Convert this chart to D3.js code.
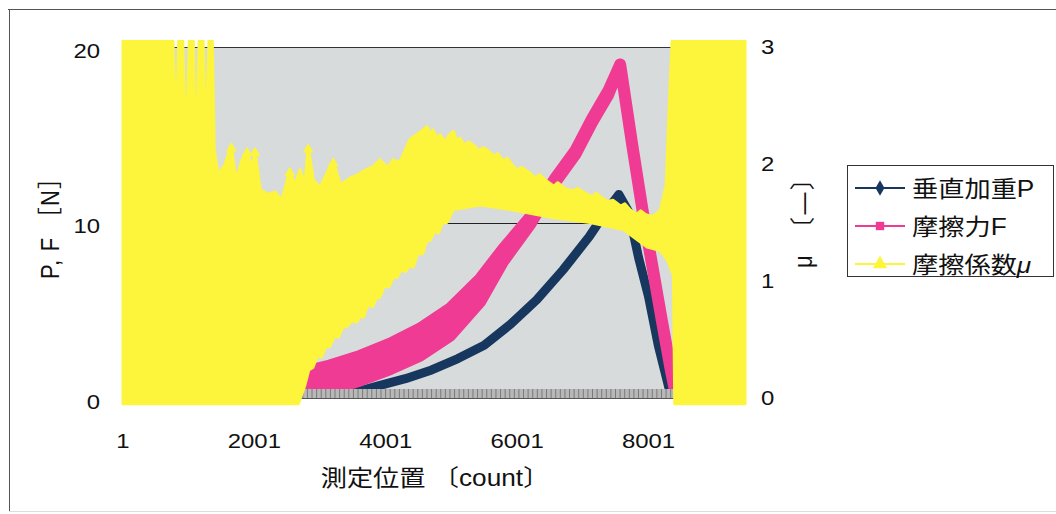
<!DOCTYPE html>
<html>
<head>
<meta charset="utf-8">
<script src="https://cdn.jsdelivr.net/npm/d3@7"></script>
<style>
  body { margin: 0; background: #fff; }
  text { font-family: "Liberation Sans", Arial, "Noto Sans CJK JP", sans-serif; fill: #111; }
</style>
</head>
<body>
<svg id="chart" width="1056" height="514"></svg>
<script>
// tick labels
var xTicks = [1, 2001, 4001, 6001, 8001];
var pfTicks = [0, 10, 20];
var muTicks = [0, 1, 2, 3];
var seriesNames = ['垂直加重P', '摩擦力F', '摩擦係数'];

// 垂直加重P [N]
var pCount = [1, 2800, 3300, 3900, 4300, 4700, 5100, 5500, 5900, 6300, 6700, 7100, 7350, 7550, 7700, 7850, 8000, 8150, 8250, 8330, 8400, 9470];
var pVal   = [0, 0, 0.1, 0.7, 1.1, 1.6, 2.25, 3.0, 4.2, 5.6, 7.3, 9.2, 10.6, 11.6, 10.6, 8.0, 5.8, 3.0, 1.5, 0.3, 0, 0.2];

// 摩擦力F [N]  (upper / lower edge of the noisy band)
var fCount = [1, 600, 1500, 2400, 2770, 3150, 3610, 4070, 4520, 4980, 5440, 5790, 6200, 6580, 6890, 7140, 7390, 7570, 7750, 7910, 8060, 8200, 8330, 8410, 8800, 9470];
var fHi    = [1.0, 0.8, 0.8, 1.0, 1.5, 1.85, 2.4, 3.1, 3.95, 5.1, 6.8, 8.5, 10.3, 12.5, 14.1, 15.9, 17.5, 19.0, 14.5, 10.7, 7.5, 4.5, 1.8, 0.3, 0.2, 0.5];
var fLo    = [0.2, 0.1, 0.1, 0.1, 0.2, 0.45, 1.0, 1.65, 2.4, 3.55, 5.5, 7.8, 9.9, 12.3, 13.9, 15.7, 17.3, 19.0, 14.5, 10.7, 7.5, 4.5, 1.8, 0.3, 0.2, 0.5];

// 摩擦係数μ [-]  (upper and lower envelope of the scatter)
var muHiCount = [1, 760, 810, 850, 910, 960, 1010, 1070, 1110, 1160, 1220, 1260, 1310, 1360, 1390, 1450, 1550, 1650, 1720, 1810, 1890, 1970, 2010, 2090, 2210, 2320, 2420, 2540, 2620, 2700, 2770, 2820, 2900, 3000, 3200, 3310, 3460, 3580, 3700, 3790, 3910, 4040, 4110, 4220, 4370, 4520, 4630, 4690, 4720, 4780, 4830, 4900, 4960, 5030, 5080, 5130, 5200, 5260, 5360, 5420, 5480, 5590, 5650, 5700, 5800, 5850, 5940, 6010, 6070, 6200, 6280, 6340, 6460, 6560, 6620, 6730, 6850, 6920, 7040, 7150, 7200, 7270, 7380, 7460, 7580, 7640, 7720, 7820, 7880, 7950, 8060, 8180, 8270, 8320, 8360, 9470];
var muHi      = [3.05, 3.05, 2.30, 3.05, 3.05, 2.12, 3.05, 3.05, 2.03, 3.05, 3.05, 2.21, 3.05, 3.05, 2.12, 1.91, 1.99, 2.16, 1.86, 2.03, 2.12, 1.95, 2.12, 1.78, 1.74, 1.76, 1.69, 1.95, 1.82, 1.95, 1.82, 2.15, 1.86, 1.80, 2.03, 1.82, 1.88, 1.91, 1.95, 1.97, 2.03, 1.97, 2.03, 2.02, 2.21, 2.27, 2.32, 2.25, 2.29, 2.22, 2.25, 2.19, 2.24, 2.28, 2.20, 2.22, 2.16, 2.19, 2.15, 2.11, 2.14, 2.10, 2.06, 2.09, 2.02, 2.05, 1.98, 1.95, 1.97, 1.92, 1.88, 1.91, 1.85, 1.81, 1.84, 1.79, 1.77, 1.79, 1.75, 1.72, 1.75, 1.72, 1.68, 1.69, 1.64, 1.66, 1.61, 1.57, 1.60, 1.57, 1.55, 1.60, 1.82, 2.55, 3.05, 3.05];
var muLoCount = [1, 2670, 2770, 2830, 2890, 2960, 3020, 3090, 3150, 3220, 3280, 3350, 3410, 3480, 3560, 3610, 3660, 3730, 3800, 3860, 3910, 3980, 4050, 4110, 4170, 4240, 4300, 4360, 4420, 4490, 4560, 4620, 4680, 4740, 4800, 4870, 4930, 5030, 5440, 5900, 6460, 7110, 7620, 7980, 8180, 8290, 8380, 8400, 9470];
var muLo      = [-0.05, -0.05, 0.11, 0.24, 0.26, 0.36, 0.35, 0.44, 0.44, 0.53, 0.52, 0.61, 0.61, 0.66, 0.65, 0.70, 0.69, 0.80, 0.78, 0.86, 0.86, 0.96, 0.95, 1.03, 1.03, 1.10, 1.08, 1.13, 1.12, 1.24, 1.23, 1.34, 1.35, 1.43, 1.41, 1.50, 1.50, 1.61, 1.65, 1.61, 1.55, 1.50, 1.44, 1.29, 1.26, 1.18, 1.05, -0.05, -0.05];
var muSpikeCount = [1650, 1890, 2010, 2540, 2820, 3200, 3910, 4110];
var muSpikeVal   = [2.16, 2.12, 2.12, 1.95, 2.15, 2.03, 2.03, 2.03];

var colors = ['#17375e', '#ef3b93', '#fdf43c'];

var svg = d3.select('#chart');
var x = d3.scaleLinear().domain([1, 9470]).range([123, 745]);
var yL = d3.scaleLinear().domain([0, 20]).range([398, 47]);
var yR = d3.scaleLinear().domain([0, 3]).range([398, 47]);

// outer chart border
svg.append('line').attr('x1', 8).attr('x2', 1056).attr('y1', 9.5).attr('y2', 9.5).attr('stroke', '#555');
svg.append('line').attr('x1', 9.5).attr('x2', 9.5).attr('y1', 9).attr('y2', 511).attr('stroke', '#555');
svg.append('line').attr('x1', 9).attr('x2', 1056).attr('y1', 511.5).attr('y2', 511.5).attr('stroke', '#ddd');

var defs = svg.append('defs');
defs.append('clipPath').attr('id', 'plotClip').append('rect')
  .attr('x', 123).attr('y', 47).attr('width', 622).attr('height', 351);
defs.append('clipPath').attr('id', 'muClip').append('rect')
  .attr('x', 117).attr('y', 40).attr('width', 635).attr('height', 366);

// plot area
svg.append('rect').attr('x', 123).attr('y', 47).attr('width', 622).attr('height', 351).attr('fill', '#d8dbdb');
svg.append('line').attr('x1', 123).attr('x2', 745).attr('y1', Math.round(yL(10)) + 0.5).attr('y2', Math.round(yL(10)) + 0.5)
  .attr('stroke', '#222');
svg.append('path').attr('d', 'M123,47.5H745.5V398').attr('fill', 'none').attr('stroke', '#333');

var plot = svg.append('g').attr('clip-path', 'url(#plotClip)');

// P
plot.append('path')
  .attr('d', d3.line().x(function(d, i) { return x(pCount[i]); }).y(function(d) { return yL(d); })(pVal))
  .attr('fill', 'none').attr('stroke', colors[0]).attr('stroke-width', 9).attr('stroke-linejoin', 'round');

// F band
var fPts = fCount.map(function(c, i) { return [c, fHi[i]]; })
  .concat(fCount.map(function(c, i) { return [c, fLo[i]]; }).reverse());
plot.append('path')
  .attr('d', d3.line().x(function(d) { return x(d[0]); }).y(function(d) { return yL(d[1]); })(fPts) + 'Z')
  .attr('fill', colors[1]).attr('stroke', colors[1]).attr('stroke-width', 12).attr('stroke-linejoin', 'round');

// category axis with dense tick marks
var axisG = svg.append('g').attr('transform', 'translate(0,398)');
axisG.append('rect').attr('x', 123).attr('y', -9).attr('width', 622).attr('height', 9).attr('fill', '#b8b8b8');
axisG.call(d3.axisBottom(x).tickValues(d3.range(1, 9470, 70)).tickSizeInner(-9).tickSizeOuter(0).tickFormat(''))
  .call(function(g) {
    g.select('.domain').attr('stroke', '#555');
    g.selectAll('.tick line').attr('stroke', '#7a7a7a');
  });

// μ scatter envelope
var muPts = muHiCount.map(function(c, i) { return [c, muHi[i]]; })
  .concat(muLoCount.map(function(c, i) { return [c, muLo[i]]; }).reverse());
var muG = svg.append('g').attr('clip-path', 'url(#muClip)');
muG.append('path')
  .attr('d', d3.line().x(function(d) { return x(d[0]); }).y(function(d) { return yR(d[1]); })(muPts) + 'Z')
  .attr('fill', colors[2]).attr('stroke', colors[2]).attr('stroke-width', 3).attr('stroke-linejoin', 'round');
muG.selectAll('path.spike').data(muSpikeVal).enter().append('path').attr('class', 'spike')
  .attr('transform', function(d, i) { return 'translate(' + x(muSpikeCount[i]) + ',' + (yR(d) + 3) + ')'; })
  .attr('d', d3.symbol().type(d3.symbolTriangle).size(50))
  .attr('fill', colors[2]);

// text helper (scan is slightly stretched horizontally)
function label(px, py, str, size, anchor, angle, len) {
  var g = svg.append('g').attr('transform', 'translate(' + px + ',' + py + ') scale(1.14,1)' + (angle ? ' rotate(' + angle + ')' : ''));
  var t = g.append('text').attr('text-anchor', anchor).attr('dominant-baseline', 'central')
    .style('font-size', size + 'px').text(str);
  if (len) t.attr('textLength', len).attr('lengthAdjust', 'spacing');
  return t;
}

pfTicks.forEach(function(v) { label(100, yL(v) + 4, v, 21, 'end'); });
muTicks.forEach(function(v) { label(761, yR(v), v, 21, 'start'); });
xTicks.forEach(function(v) { label(x(v), 441, v, 21, 'middle'); });

label(435, 478, '測定位置 〔count〕', 23, 'middle');
label(50, 223, 'P, F ［N］', 22, 'middle', -90, 112);
label(803, 218, 'μ　〔—〕', 22, 'middle', -90, 100);

// legend
var leg = svg.append('g');
leg.append('rect').attr('x', 847.5).attr('y', 165.5).attr('width', 206).attr('height', 111)
  .attr('fill', '#fff').attr('stroke', '#333');
var rowY = [188, 226, 264];
var shapes = [d3.symbolDiamond, d3.symbolSquare, d3.symbolTriangle];
var sizes = [70, 70, 90];
seriesNames.forEach(function(name, i) {
  leg.append('line').attr('x1', 855).attr('x2', 905).attr('y1', rowY[i]).attr('y2', rowY[i])
    .attr('stroke', colors[i]).attr('stroke-width', 2);
  leg.append('path').attr('transform', 'translate(880,' + rowY[i] + ')')
    .attr('d', d3.symbol().type(shapes[i]).size(sizes[i])).attr('fill', colors[i]);
  var t = label(912, rowY[i] + 1, name, 23, 'start');
  if (i === 2) t.append('tspan').style('font-style', 'italic').text('μ');
});
</script>
</body>
</html>
